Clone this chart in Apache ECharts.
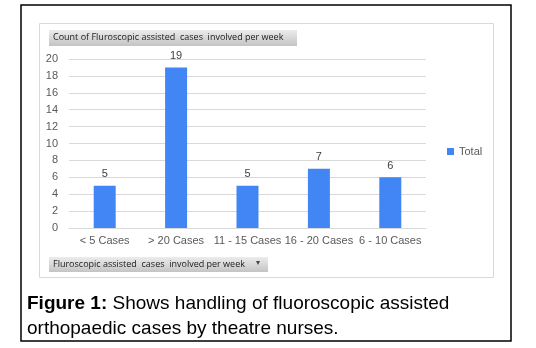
<!DOCTYPE html>
<html><head><meta charset="utf-8">
<script src="https://cdn.jsdelivr.net/npm/echarts@6/dist/echarts.min.js"></script>
<style>html,body{margin:0;padding:0;background:#fff}#c{width:536px;height:348px}</style>
</head><body><div id="c"></div>
<script>
const categories = ['< 5 Cases', '> 20 Cases', '11 - 15 Cases', '16 - 20 Cases', '6 - 10 Cases'];
const totals = [5, 19, 5, 7, 6];
const seriesName = 'Total';
const chartTitle = 'Count of Fluroscopic assisted  cases  involved per week';
const filterLabel = 'Fluroscopic assisted  cases  involved per week';

const chart = echarts.init(document.getElementById('c'), null, {renderer: 'canvas'});
const grad = new echarts.graphic.LinearGradient(0, 0, 0, 1, [
  {offset: 0, color: '#ececec'}, {offset: 1, color: '#c4c4c4'}
]);
chart.setOption({
  animation: false,
  backgroundColor: '#fff',
  textStyle: {fontFamily: 'Liberation Sans, Arial, sans-serif'},
  grid: {left: 69, right: 110, top: 59, bottom: 120},
  legend: {
    data: [seriesName], left: 442, top: 141, orient: 'vertical',
    itemWidth: 7, itemHeight: 7, itemGap: 4, icon: 'rect',
    textStyle: {color: '#595959', fontSize: 11, fontFamily: 'Liberation Sans'}
  },
  xAxis: {
    type: 'category', data: categories,
    axisLine: {lineStyle: {color: '#d9d9d9'}},
    axisTick: {show: false},
    axisLabel: {color: '#595959', fontSize: 11, margin: 7, interval: 0, fontFamily: 'Liberation Sans'}
  },
  yAxis: {
    type: 'value', min: 0, max: 20, interval: 2,
    axisLine: {show: false}, axisTick: {show: false},
    splitLine: {lineStyle: {color: '#d9d9d9'}},
    axisLabel: {color: '#595959', fontSize: 11, margin: 11, fontFamily: 'Liberation Sans'}
  },
  series: [{
    name: seriesName, type: 'bar', data: totals, barWidth: 22,
    itemStyle: {color: '#4285f4'},
    label: {show: true, position: 'top', color: '#404040', fontSize: 11, distance: 6, fontFamily: 'Liberation Sans'}
  }],
  graphic: [
    {type: 'rect', shape: {x: 21, y: 5, width: 490, height: 336}, style: {fill: 'none', stroke: '#000', lineWidth: 1.5}, z: 0},
    {type: 'rect', shape: {x: 39.5, y: 23.5, width: 454, height: 254}, style: {fill: 'none', stroke: '#d9d9d9', lineWidth: 1}, z: 0},
    {type: 'rect', shape: {x: 49, y: 30, width: 248, height: 16}, style: {fill: grad}, z: 1},
    {type: 'text', left: 53, top: 32.5, style: {text: chartTitle, fill: '#1a1a1a', fontSize: 9, fontFamily: 'Open Sans, Liberation Sans'}, z: 2},
    {type: 'rect', shape: {x: 49, y: 257, width: 219, height: 15}, style: {fill: grad}, z: 1},
    {type: 'text', left: 53, top: 259.5, style: {text: filterLabel, fill: '#1a1a1a', fontSize: 9, fontFamily: 'Open Sans, Liberation Sans'}, z: 2},
    {type: 'text', left: 256, top: 259, style: {text: '▾', fill: '#444', fontSize: 8}, z: 2},
    {type: 'text', left: 27, top: 294, style: {
      rich: {
        b: {fontWeight: 'bold', fontSize: 19, fill: '#000', fontFamily: 'Liberation Sans', lineHeight: 25},
        n: {fontSize: 19, fill: '#000', fontFamily: 'Liberation Sans', lineHeight: 25}
      },
      text: '{b|Figure 1:}{n| Shows handling of fluoroscopic assisted}\n{n|orthopaedic cases by theatre nurses.}'
    }, z: 2}
  ]
});
</script></body></html>
